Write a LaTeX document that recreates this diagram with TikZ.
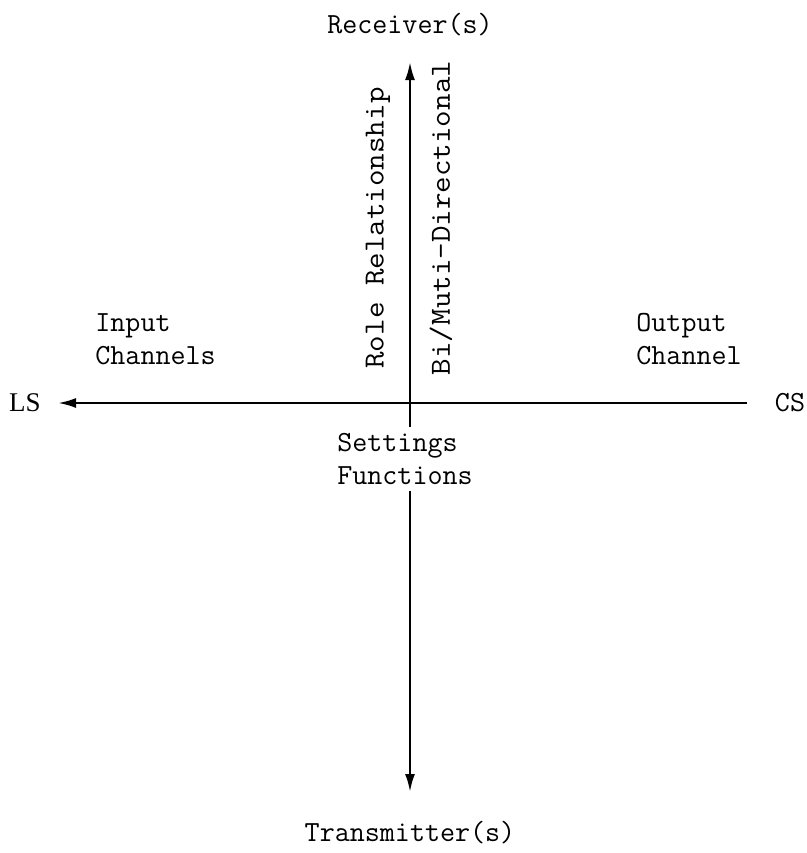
\documentclass[tikz,border=0pt]{standalone}
\usepackage{fontspec}
\setmainfont{Liberation Serif}
\usetikzlibrary{arrows.meta, positioning}

\begin{document}
\begin{tikzpicture}[
        x=0.5pt, y=-0.5pt,
        every node/.style={font=\ttfamily\fontsize{14.6}{16.5}\selectfont},
        label/.style={align=left, inner sep=3pt},
        sidetext/.style={rotate=90, xscale=1.1, inner sep=0pt},
        axis/.style={-{Latex[length=9pt, width=5pt]}, line width=1.2pt}
    ]
        \useasboundingbox (0,0) rectangle (807,853);
        % axis ends and crossing
        \coordinate (origin) at (410,403);
        \coordinate (topend) at (410,62);
        \coordinate (botend) at (410,792);
        \coordinate (lsend) at (58,403);
        \coordinate (csend) at (747,403);
        % end labels
        \node (receiver) at (410,25) {Receiver(s)};
        \node (transmitter) at (410,833) {Transmitter(s)};
        \node[font=\rmfamily\fontsize{13.5}{16.5}\selectfont] (ls) at (25,403) {LS};
        \node (cs) at (790,403) {CS};
        % quadrant labels
        \node[label, anchor=west] (input) at (89,339) {Input\\Channels};
        \node[label, anchor=west] (output) at (630,339) {Output\\Channel};
        \node[sidetext] (role) at (378,228) {Role Relationship};
        \node[sidetext] (bidir) at (441,218) {Bi/Muti-Directional};
        \node[label] (settings) at (405,459) {Settings\\Functions};
        % axes
        \draw[axis] (origin |- settings.north) -- (topend);
        \draw[axis] (origin |- settings.south) -- (botend);
        \draw[axis, {Latex[length=9pt, width=5pt]}-] (lsend) -- (csend);
\end{tikzpicture}
\end{document}
